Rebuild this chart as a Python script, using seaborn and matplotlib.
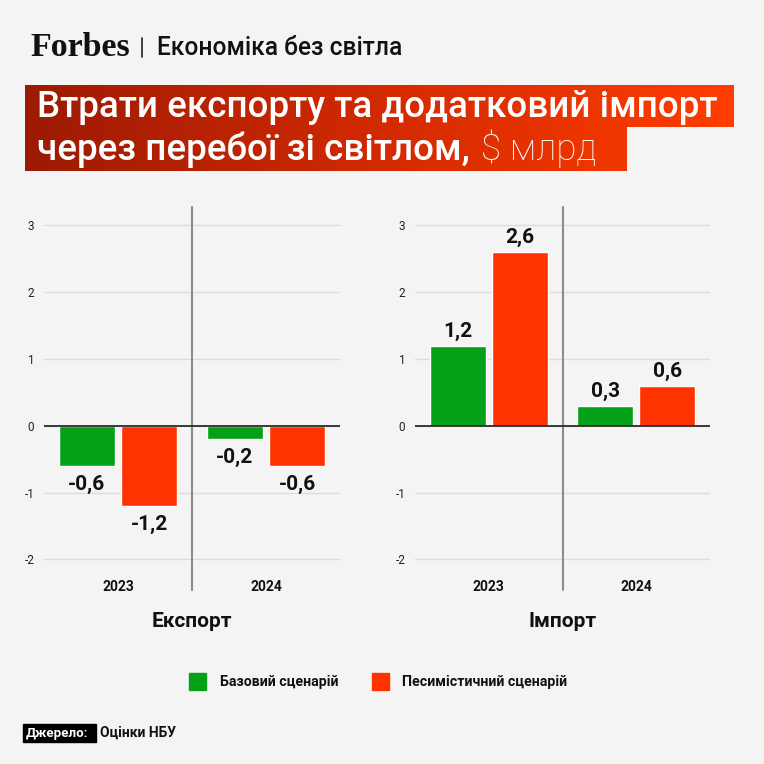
import numpy as np
import pandas as pd
import matplotlib
matplotlib.use("Agg")
import matplotlib.pyplot as plt
import seaborn as sns
from matplotlib.patches import Rectangle
from matplotlib.lines import Line2D
from matplotlib.colors import LinearSegmentedColormap

# --- data -------------------------------------------------------------
years = ["2023", "2024"]
scenarios = ["Базовий сценарій", "Песимістичний сценарій"]
export_base = [-0.6, -0.2]
export_pess = [-1.2, -0.6]
import_base = [1.2, 0.3]
import_pess = [2.6, 0.6]
y_ticks = [-2, -1, 0, 1, 2, 3]

header_brand = "Forbes"
header_section = "Економіка без світла"
title_line1 = "Втрати експорту та додатковий імпорт"
title_line2 = "через перебої зі світлом,"
title_unit = "$ млрд"
panel_titles = ["Експорт", "Імпорт"]
source_label = "Джерело:"
source_text = "Оцінки НБУ"

GREEN = "#04A018"
RED = "#FF3300"
BG = "#F4F4F4"

sns.set_theme(style="white")
plt.rcParams["font.family"] = ["Roboto", "DejaVu Sans"]
plt.rcParams["axes.unicode_minus"] = False

W = H = 764
fig = plt.figure(figsize=(7.64, 7.64), dpi=100)
fig.patch.set_facecolor(BG)


def fx(px):
    return px / W


def fy(py):
    return 1 - py / H


def long_df(base, pess):
    return pd.DataFrame({
        "year": years * 2,
        "value": base + pess,
        "scenario": [scenarios[0]] * len(years) + [scenarios[1]] * len(years),
    })


zero_px = 425.7
unit_px = 66.8
ax_top, ax_bot = 200, 565
ylim = (-(ax_bot - zero_px) / unit_px, (zero_px - ax_top) / unit_px)
ax_h = ax_bot - ax_top


def make_panel(left, width, df, pad, title, title_x):
    ax = fig.add_axes([fx(left), fy(ax_bot), fx(width), ax_h / H])
    ax.set_facecolor(BG)
    sns.barplot(data=df, x="year", y="value", hue="scenario",
                palette=[GREEN, RED], width=0.84, gap=0.1, saturation=1,
                legend=False, ax=ax, zorder=2)
    ax.set_xlim(-0.5, 1.5)
    ax.set_ylim(*ylim)
    ax.set_yticks(y_ticks)
    ax.set_yticklabels([str(t) for t in y_ticks])
    ax.yaxis.grid(True, color="#DCDCDC", lw=1)
    ax.set_axisbelow(True)
    for s in ax.spines.values():
        s.set_visible(False)
    ax.axhline(0, color="#2B2B2B", lw=1.3, zorder=3)
    ax.axvline(0.5, ymin=(ax_bot - 590) / ax_h, ymax=(ax_bot - 207) / ax_h,
               color="#8C8C8C", lw=1.5, clip_on=False, zorder=1)
    ax.tick_params(axis="y", length=0, pad=7, labelsize=8.5, colors="#222222")
    ax.tick_params(axis="x", length=0, pad=11, labelsize=10, colors="#111111")
    for lab in ax.get_xticklabels():
        lab.set_fontweight("bold")
    ax.set_xlabel("")
    ax.set_ylabel("")
    for cont in ax.containers:
        labels = [f"{b.get_height():.1f}".replace(".", ",") for b in cont]
        ax.bar_label(cont, labels=labels, padding=pad, fontsize=15,
                     fontweight="bold", color="#111111")
    fig.text(fx(title_x), fy(621.5), title, ha="center", va="center",
             fontsize=15, fontweight="bold", color="#111111")
    return ax


make_panel(44, 296, long_df(export_base, export_pess), 6.5, panel_titles[0], 192)
make_panel(415, 295, long_df(import_base, import_pess), 3.5, panel_titles[1], 563)

# --- header -----------------------------------------------------------
renderer = fig.canvas.get_renderer()


def fit_text(x, y, s, target_w, fs, **kw):
    t = fig.text(fx(x), fy(y), s, fontsize=fs, va="baseline", ha="left", **kw)
    bb = t.get_window_extent(renderer)
    t.set_fontsize(fs * target_w / bb.width)
    return t


fit_text(30, 56, header_brand, 100, 22, family=["Liberation Serif", "DejaVu Serif"],
         fontweight="bold", color="#111111")
fig.add_artist(Line2D([fx(142), fx(142)], [fy(38), fy(57)], color="#222222", lw=1.2))
fit_text(157, 55, header_section, 245, 17, fontweight="medium", color="#111111")

# title banner with gradient
overlay = fig.add_axes([0, 0, 1, 1], zorder=5)
overlay.axis("off")
cmap = LinearSegmentedColormap.from_list("banner", ["#9C1A04", "#D32A02", "#FF3D00"])
grad = np.linspace(0, 1, 256).reshape(1, -1)
x0, x1 = 25, 734
for (ry0, ry1, rx1) in [(86, 127.5, 734), (127.5, 171, 627)]:
    frac = (rx1 - x0) / (x1 - x0)
    overlay.imshow(grad[:, : max(2, int(256 * frac))], cmap=cmap, vmin=0, vmax=1,
                   aspect="auto", extent=(x0, rx1, ry1, ry0), zorder=1)
overlay.set_xlim(0, W)
overlay.set_ylim(H, 0)

t1 = fit_text(37, 117, title_line1, 680, 22, fontweight="medium", color="white", zorder=6)
t2 = fig.text(fx(37), fy(160), title_line2, fontsize=t1.get_fontsize(), va="baseline",
              ha="left", fontweight="medium", color="white", zorder=6)
bb2 = t2.get_window_extent(renderer)
fig.text(bb2.x1 / W + fx(11), fy(160), title_unit, fontsize=t1.get_fontsize(),
         va="baseline", ha="left", fontweight="light", color="white", zorder=6)

# --- legend -----------------------------------------------------------
for (sx, tx), lab, col in zip([(189, 220), (372, 402)], scenarios, [GREEN, RED]):
    fig.add_artist(Rectangle((fx(sx), fy(690)), fx(17), 17 / H, color=col))
    fig.text(fx(tx), fy(682), lab, fontsize=10.2, va="center", ha="left",
             fontweight="bold", color="#111111")

# --- source -----------------------------------------------------------
fig.add_artist(Rectangle((fx(23), fy(742)), fx(73), 18 / H, color="black"))
fig.text(fx(26), fy(733), source_label, fontsize=9.6, va="center", ha="left",
         fontweight="bold", color="white")
fig.text(fx(100), fy(733), source_text, fontsize=10, va="center", ha="left",
         fontweight="bold", color="#111111")

fig.savefig("out.png", dpi=100, facecolor=BG)
